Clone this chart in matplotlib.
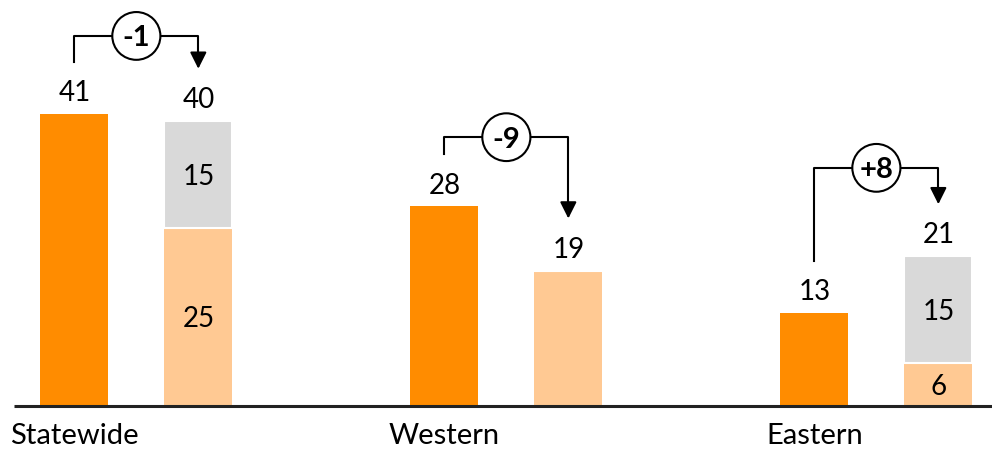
import matplotlib
matplotlib.use('Agg')
import matplotlib.pyplot as plt
from matplotlib.patches import Ellipse, FancyArrowPatch

# data
groups = ['Statewide', 'Western', 'Eastern']
before = [41, 28, 13]
after_base = [25, 19, 6]
after_extra = [15, 0, 15]
changes = ['-1', '-9', '+8']

# layout for the change brackets (value units)
bracket_level = [51.9, 37.7, 33.4]
gap = 7.3

orange = '#FF8C00'
peach = '#FFC993'
grey = '#D9D9D9'

plt.rcParams['font.family'] = ['Lato', 'DejaVu Sans']

fig = plt.figure(figsize=(9.92, 4.5), dpi=100)
ax = fig.add_axes([0, 0, 1, 1])
ax.set_xlim(-0.201, 2.480)
ax.set_ylim(-6.17, 56.94)
ax.axis('off')

off = 0.335
width = 0.184
xs = list(range(len(groups)))
x_after = [x + off for x in xs]
after_total = [a + b for a, b in zip(after_base, after_extra)]

ax.bar(xs, before, width=width, color=orange, zorder=2)
ax.bar(x_after, after_base, width=width, color=peach, zorder=2)
ax.bar(x_after, after_extra, bottom=after_base, width=width, color=grey,
       edgecolor='white', linewidth=1.5, zorder=2)

# baseline
ax.plot([-0.1635, 2.48], [0, 0], color='#222222', lw=2.2, zorder=3,
        solid_capstyle='butt')

fs = 20
for i, x in enumerate(xs):
    ax.text(x, before[i] + 1.8, str(before[i]), ha='center', va='baseline', fontsize=fs)
    ax.text(x_after[i], after_total[i] + 1.8, str(after_total[i]), ha='center',
            va='baseline', fontsize=fs)
    if after_extra[i] > 0:
        ax.text(x_after[i], after_base[i] / 2, str(after_base[i]), ha='center',
                va='center_baseline', fontsize=fs)
        ax.text(x_after[i], after_base[i] + after_extra[i] / 2, str(after_extra[i]),
                ha='center', va='center_baseline', fontsize=fs)
    ax.text(x, -5.35, groups[i], ha='center', va='baseline', fontsize=21)

    # bracket
    y0 = before[i] + gap
    y1 = bracket_level[i]
    tip = after_total[i] + gap
    ax.plot([x, x, x_after[i], x_after[i]], [y0, y1, y1, tip + 1.5],
            color='black', lw=1.5, zorder=3)
    arr = FancyArrowPatch((x_after[i], tip + 2.0), (x_after[i], tip),
                          arrowstyle='-|>,head_length=0.5,head_width=0.25',
                          mutation_scale=20, color='black', lw=1.5, zorder=4,
                          shrinkA=0, shrinkB=0)
    ax.add_patch(arr)
    cx = (x + x_after[i]) / 2
    ax.add_patch(Ellipse((cx, y1), 0.13, 6.7, facecolor='white', edgecolor='black',
                         lw=1.5, zorder=5))
    ax.text(cx, y1, changes[i], ha='center', va='center_baseline', fontsize=21,
            fontweight='bold', zorder=6)

fig.savefig('out.png', dpi=100)
